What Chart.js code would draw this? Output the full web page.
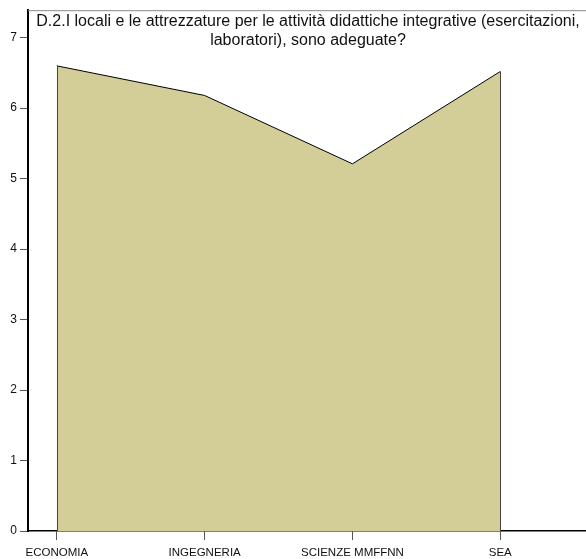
<!DOCTYPE html>
<html>
<head>
<meta charset="utf-8">
<script src="https://cdn.jsdelivr.net/npm/chart.js@4/dist/chart.umd.min.js"></script>
<style>
  html, body { margin: 0; padding: 0; background: #fff; }
  #wrap { width: 586px; height: 559px; }
</style>
</head>
<body>
<div id="wrap"><canvas id="chart"></canvas></div>
<script>
const categories = ['ECONOMIA', 'INGEGNERIA', 'SCIENZE MMFFNN', 'SEA'];
const values = [6.6, 6.18, 5.21, 6.52];
const yTicks = [0, 1, 2, 3, 4, 5, 6, 7];
const titleLines = [
    'D.2.I locali e le attrezzature per le attività didattiche integrative (esercitazioni,',
    'laboratori), sono adeguate?'
];

const FONT = '"Liberation Sans", Arial, sans-serif';

// frame line, vertical edges of the area and the title inside the plot
const decor = {
    id: 'decor',
    afterDatasetsDraw(chart) {
        const { ctx, chartArea, scales } = chart;
        ctx.save();
        ctx.strokeStyle = '#888';
        ctx.lineWidth = 1;
        ctx.beginPath();
        ctx.moveTo(chartArea.left, chartArea.top + 0.5);
        ctx.lineTo(chartArea.right, chartArea.top + 0.5);
        ctx.stroke();

        ctx.strokeStyle = '#444';
        [0, values.length - 1].forEach(i => {
            const x = Math.round(scales.x.getPixelForValue(i)) + 0.5;
            ctx.beginPath();
            ctx.moveTo(x, scales.y.getPixelForValue(0));
            ctx.lineTo(x, scales.y.getPixelForValue(values[i]));
            ctx.stroke();
        });

        ctx.fillStyle = '#111';
        ctx.font = '16px ' + FONT;
        ctx.textAlign = 'center';
        ctx.textBaseline = 'middle';
        titleLines.forEach((t, i) => ctx.fillText(t, 308, 22 + i * 19));
        ctx.restore();
    }
};

const ctx = document.getElementById('chart').getContext('2d');
new Chart(ctx, {
    type: 'line',
    data: {
        datasets: [{
            data: values.map((v, i) => ({ x: i, y: v })),
            fill: 'origin',
            backgroundColor: '#d3ce98',
            borderColor: '#000',
            borderWidth: 1,
            tension: 0,
            pointRadius: 0
        }]
    },
    options: {
        responsive: true,
        maintainAspectRatio: false,
        animation: false,
        layout: { padding: { top: 8, right: 0, left: 0, bottom: 0 } },
        plugins: {
            legend: { display: false },
            tooltip: { enabled: false }
        },
        scales: {
            x: {
                type: 'linear',
                min: -0.195,
                max: 3.58,
                afterBuildTicks: axis => { axis.ticks = categories.map((c, i) => ({ value: i })); },
                afterFit: axis => { axis.height = 28; },
                ticks: {
                    callback: v => categories[v],
                    color: '#111',
                    font: { size: 11.5, family: FONT },
                    padding: 6,
                    maxRotation: 0,
                    autoSkip: false
                },
                grid: { drawOnChartArea: false, tickLength: 9, color: '#555' },
                border: { color: '#000', width: 1.5 }
            },
            y: {
                min: 0,
                max: 7.39,
                afterBuildTicks: axis => { axis.ticks = yTicks.map(v => ({ value: v })); },
                afterFit: axis => { axis.width = 28; },
                ticks: {
                    color: '#111',
                    font: { size: 12, family: FONT },
                    padding: 3
                },
                grid: { drawOnChartArea: false, tickLength: 8, color: '#555' },
                border: { color: '#000', width: 2 }
            }
        }
    },
    plugins: [decor]
});
</script>
</body>
</html>
